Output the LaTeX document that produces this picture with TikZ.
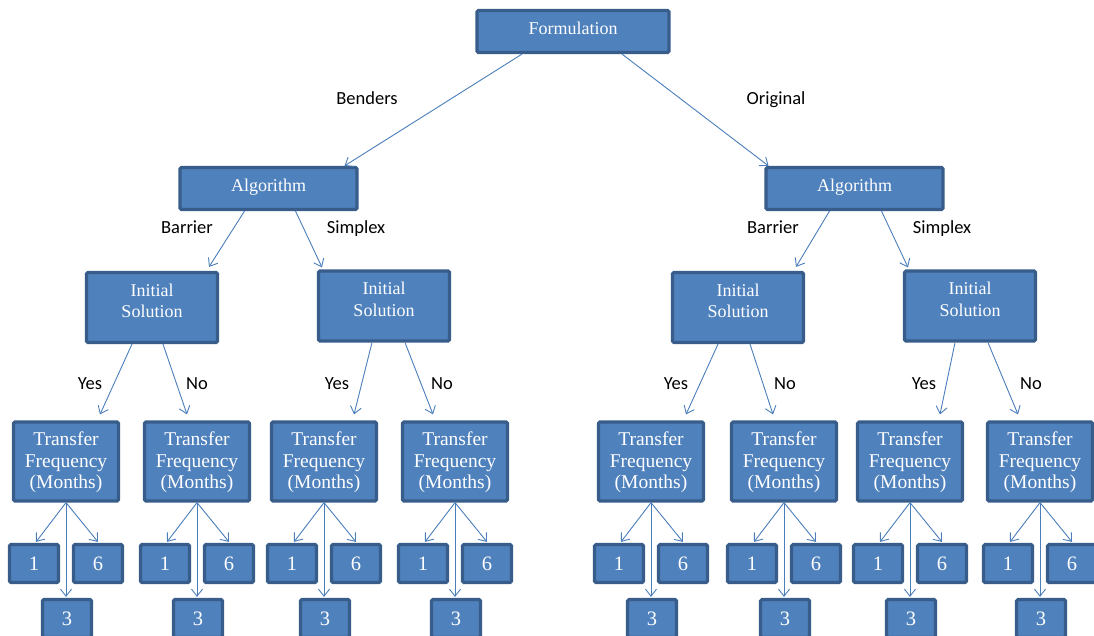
\documentclass[tikz,border=0pt]{standalone}
\usepackage{fontspec}
\setmainfont{Liberation Serif}
\newfontfamily\lblfont{Carlito}
\usetikzlibrary{arrows.meta,calc}
\definecolor{boxfill}{HTML}{4F81BD}
\definecolor{boxline}{HTML}{385D8A}
\definecolor{arrowc}{HTML}{4A7EBB}
\tikzset{
  box/.style={draw=boxline,fill=boxfill,line width=3.2pt,rounded corners=1.5pt,
    text=white,align=center,inner sep=0pt,font=\fontsize{18}{21.5}\selectfont},
  topbox/.style={box,minimum width=192pt,minimum height=42pt,text depth=6pt},
  algbox/.style={box,minimum width=177pt,minimum height=42pt,text depth=6pt},
  initbox/.style={box,minimum width=131pt,minimum height=70pt,text depth=13pt},
  tfbox/.style={box,minimum width=105pt,minimum height=79pt,text height=59pt,
    font=\fontsize{19.5}{21.5}\selectfont},
  leafbox/.style={box,minimum width=49pt,minimum height=38pt,font=\fontsize{20.5}{22}\selectfont},
  conn/.style={draw=arrowc,line width=0.9pt,-{Straight Barb[length=7pt,width=11pt,line width=0.9pt]}},
  lbl/.style={font=\lblfont\fontsize{18.5}{20}\selectfont,text=black,inner sep=0pt,anchor=base}
}
\begin{document}
\begin{tikzpicture}[x=1pt,y=-1pt]
\useasboundingbox (0,0) rectangle (1094,636);
% top
\node[topbox] (f) at (573,31.5) {Formulation};
\node[algbox] (aL) at (268.5,188.5) {Algorithm};
\node[algbox] (aR) at (854.5,188.5) {Algorithm};
\draw[conn] ($(f.south)+(-51,0)$) -- ($(aL.north)+(76,0)$);
\draw[conn] ($(f.south)+(49,0)$) -- ($(aR.north)+(-86,0)$);
\node[lbl] (lb) at (367,105) {Benders};
\node[lbl] (lo) at (776,105) {Original};
% initial solution
\node[initbox] (iLL) at (152,307.5) {Initial\\Solution};
\node[initbox] (iLR) at (384,306) {Initial\\Solution};
\node[initbox] (iRL) at (738,307.5) {Initial\\Solution};
\node[initbox] (iRR) at (970,306) {Initial\\Solution};
\draw[conn] ($(aL.south)+(-24,0)$) -- ($(iLL.north)+(57,-4)$);
\draw[conn] ($(aL.south)+(27,0)$) -- ($(iLR.north)+(-62,-2)$);
\draw[conn] ($(aR.south)+(-25,0)$) -- ($(iRL.north)+(58,-4)$);
\draw[conn] ($(aR.south)+(27,0)$) -- ($(iRR.north)+(-62,-2)$);
\node[lbl] (b1) at (187,234) {Barrier};
\node[lbl] (s1) at (356,234) {Simplex};
\node[lbl] (b2) at (773,234) {Barrier};
\node[lbl] (s2) at (942,234) {Simplex};
% transfer frequency
\foreach \n/\x in {1/66,2/197,3/324,4/455,5/651,6/784,7/910,8/1040}{
  \node[tfbox] (t\n) at (\x,461.5) {Transfer\\Frequency\\(Months)};
  \node[leafbox] (o\n) at (\x-32,563.5) {1};
  \node[leafbox] (s\n) at (\x+32,563.5) {6};
  \node[leafbox] (h\n) at (\x+1,618.5) {3};
  \draw[conn] (t\n.south) -- ($(o\n.north)+(2,-1)$);
  \draw[conn] (t\n.south) -- ($(s\n.north)+(0,-1)$);
  \draw[conn] (t\n.south) -- ($(h\n.north)+(-1,-1)$);
}
\draw[conn] ($(iLL.south)+(-20,0)$) -- ($(t1.north)+(34,-6)$);
\draw[conn] ($(iLL.south)+(11,0)$) -- ($(t2.north)+(-10,-6)$);
\draw[conn] ($(iLR.south)+(-12,0)$) -- ($(t3.north)+(30,-6)$);
\draw[conn] ($(iLR.south)+(21,0)$) -- ($(t4.north)+(-22,-6)$);
\draw[conn] ($(iRL.south)+(-20,0)$) -- ($(t5.north)+(35,-6)$);
\draw[conn] ($(iRL.south)+(12,0)$) -- ($(t6.north)+(-11,-6)$);
\draw[conn] ($(iRR.south)+(-15,0)$) -- ($(t7.north)+(30,-6)$);
\draw[conn] ($(iRR.south)+(18,0)$) -- ($(t8.north)+(-22,-6)$);
\node[lbl] (y1) at (90,389) {Yes};
\node[lbl] (n1) at (197,389) {No};
\node[lbl] (y2) at (337,389) {Yes};
\node[lbl] (n2) at (442,389) {No};
\node[lbl] (y3) at (676,389) {Yes};
\node[lbl] (n3) at (785,389) {No};
\node[lbl] (y4) at (924,389) {Yes};
\node[lbl] (n4) at (1031,389) {No};
\end{tikzpicture}
\end{document}
